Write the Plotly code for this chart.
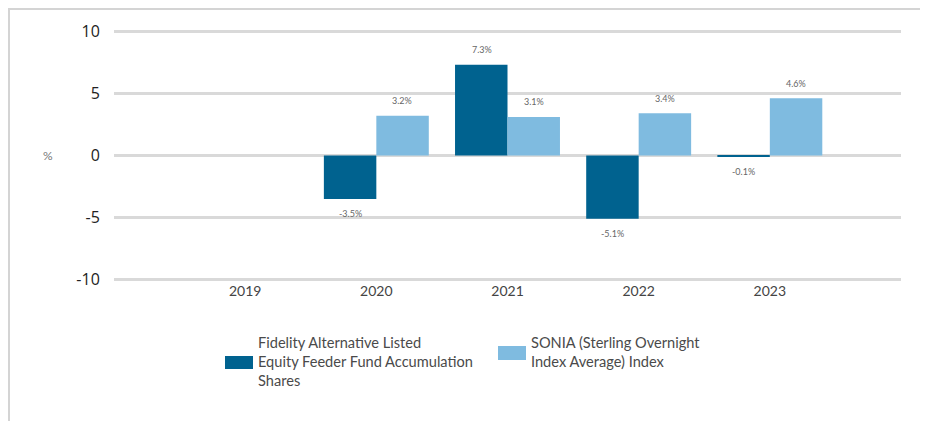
import plotly.graph_objects as go

years = ["2019", "2020", "2021", "2022", "2023"]
fund_values = [None, -3.5, 7.3, -5.1, -0.1]
sonia_values = [None, 3.2, 3.1, 3.4, 4.6]
fund_name = "Fidelity Alternative Listed<br>Equity Feeder Fund Accumulation<br>Shares"
sonia_name = "SONIA (Sterling Overnight<br>Index Average) Index"
y_ticks = [-10, -5, 0, 5, 10]
y_tick_text = ["-10", "-5", "0", "5", "10"]

dark = "#00628f"
light = "#7fbbe0"
font_fam = "Lato, 'Open Sans', sans-serif"

fig = go.Figure()
for vals, col, name in [(fund_values, dark, fund_name), (sonia_values, light, sonia_name)]:
    fig.add_trace(go.Bar(
        x=years, y=vals, name=name, marker_color=col, marker_line_width=0,
        showlegend=False,
    ))

OFF = 8  # page body margin
W, H = 928 - OFF, 421 - OFF
L, R, T, B = 106, 27, 22, 140
pw, ph = W - L - R, H - T - B

def px(x):
    return (x - OFF - L) / pw

def py(y):
    return (H - B - (y - OFF)) / ph

shapes = [
    dict(type="rect", xref="paper", yref="paper", x0=px(9), x1=px(960), y0=py(460), y1=py(9),
         line=dict(color="#d4d4d4", width=2), fillcolor="rgba(0,0,0,0)", layer="below"),
    dict(type="rect", xref="paper", yref="paper", x0=px(225), x1=px(253), y0=py(369), y1=py(356),
         line=dict(width=0), fillcolor=dark),
    dict(type="rect", xref="paper", yref="paper", x0=px(498), x1=px(526), y0=py(360), y1=py(346),
         line=dict(width=0), fillcolor=light),
]

annotations = [
    dict(text="%", xref="paper", yref="y", x=px(48), y=0, showarrow=False,
         xanchor="center", yanchor="middle", font=dict(size=12, color="#777777", family=font_fam)),
    dict(text=fund_name, xref="paper", yref="paper", x=px(256), y=py(361), showarrow=False,
         xanchor="left", yanchor="middle", align="left",
         font=dict(size=14.6, color="#4a4a4a", family=font_fam)),
    dict(text=sonia_name, xref="paper", yref="paper", x=px(529), y=py(351.5), showarrow=False,
         xanchor="left", yanchor="middle", align="left",
         font=dict(size=14.6, color="#4a4a4a", family=font_fam)),
]

# value labels, placed through the axes' own scales (category index on x)
for vals, shift in [(fund_values, -26), (sonia_values, 26)]:
    for i, v in enumerate(vals):
        if v is None:
            continue
        annotations.append(dict(
            text=f"{v:.1f}%", x=i, y=v, xref="x", yref="y", showarrow=False,
            xanchor="center", yanchor="middle", xshift=shift, yshift=15 if v >= 0 else -15,
            font=dict(size=9, color="#666666", family=font_fam),
        ))

fig.update_layout(
    width=W, height=H,
    margin=dict(l=L, r=R, t=T, b=B),
    paper_bgcolor="white", plot_bgcolor="white",
    barmode="group", bargap=0.2, bargroupgap=0,
    shapes=shapes, annotations=annotations,
    font=dict(family=font_fam),
)
fig.update_xaxes(
    type="category", range=[-1, 5], showgrid=False, showline=False, zeroline=False,
    tickfont=dict(size=14, color="#444444", family=font_fam), ticks="",
)
fig.update_yaxes(
    range=[-10.1, 10.1], tickvals=y_ticks, ticktext=y_tick_text,
    showgrid=True, gridcolor="#d9d9d9", gridwidth=2.5,
    zeroline=True, zerolinecolor="#d9d9d9", zerolinewidth=2.5, showline=False,
    ticks="outside", ticklen=10, tickcolor="rgba(0,0,0,0)",
    tickfont=dict(size=16, color="#222222", family="'Open Sans', sans-serif"),
)

fig.write_html("out.html")
